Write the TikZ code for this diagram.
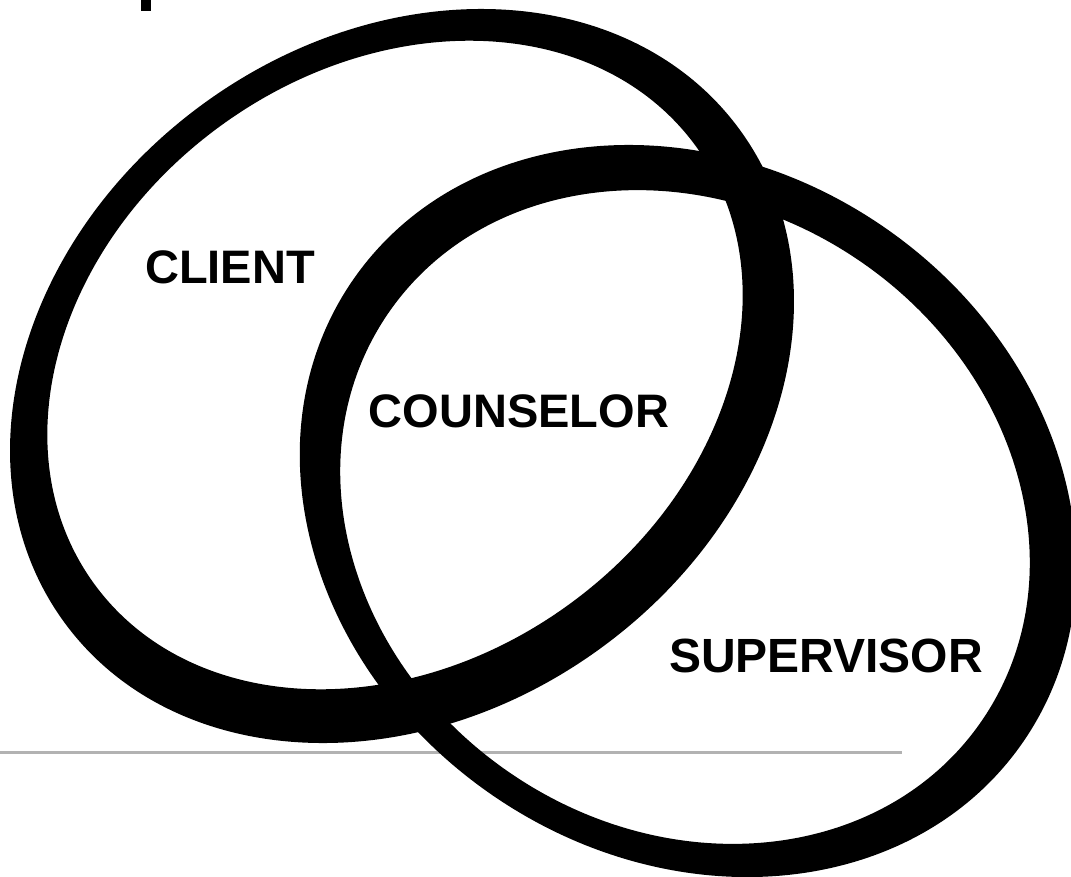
\documentclass[tikz,border=0pt]{standalone}
\usepackage{fontspec}
\setmainfont{Liberation Sans}
\begin{document}
\begin{tikzpicture}[x=1pt,y=1pt,
  ring/.style={fill=black, even odd rule},
  label/.style={font=\fontsize{47}{56}\selectfont\bfseries, inner sep=0pt, text=black},
  rule/.style={draw=black!30, line width=3pt}]
\useasboundingbox (0,0) rectangle (1071,-876);
% thin rule across the lower part
\coordinate (ruleL) at (0,-752);
\coordinate (ruleR) at (902,-752);
\draw[rule] (ruleL) -- (ruleR);
% small bar at the top edge
\fill (141,0) rectangle (151,-11);
% client ring
\fill[ring]
  {[rotate around={36:(402,-376)}] (402,-376) ellipse [x radius=418, y radius=337]}
  {[rotate around={36:(395,-365)}] (395,-365) ellipse [x radius=372, y radius=296]};
% supervisor ring
\fill[ring]
  {[rotate around={-34.5:(688,-511)}] (688,-511) ellipse [x radius=407, y radius=345]}
  {[rotate around={-34.5:(685,-517)}] (685,-517) ellipse [x radius=360, y radius=310]};
% labels
\node[label] (client) at (230,-267) {CLIENT};
\node[label] (counselor) at (519,-411) {COUNSELOR};
\node[label, font=\fontsize{48}{56}\selectfont\bfseries] (supervisor) at (826,-656) {SUPERVISOR};
\end{tikzpicture}
\end{document}
